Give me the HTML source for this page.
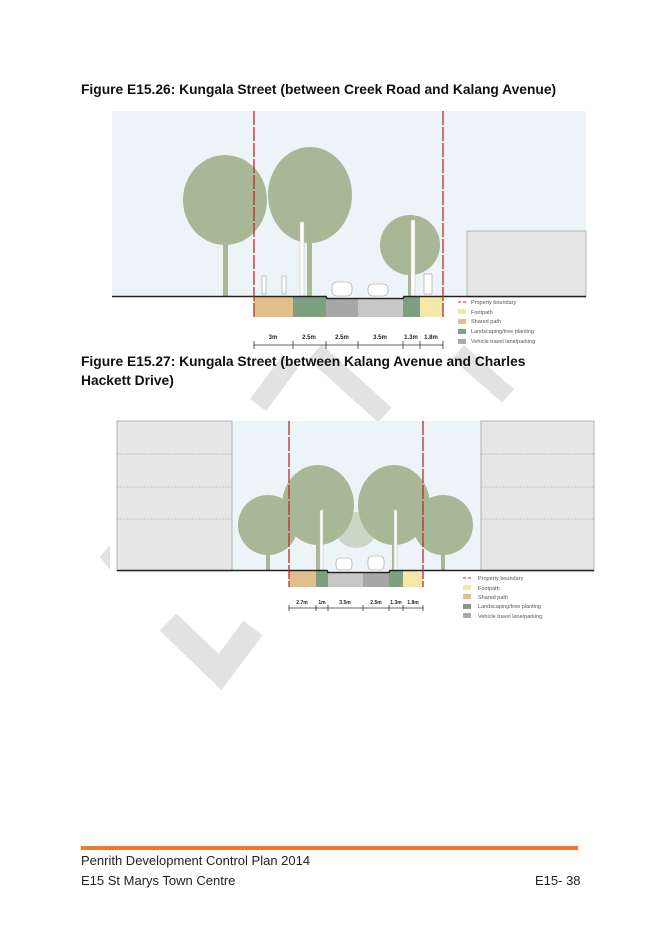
<!DOCTYPE html>
<html><head><meta charset="utf-8"><style>
body{margin:0;width:656px;height:928px;background:#fff;position:relative;overflow:hidden;font-family:"Liberation Sans",sans-serif}
.t{position:absolute;font-weight:bold;font-size:13.8px;color:#111;line-height:19px}
.f{position:absolute;font-size:13px;color:#222}
</style></head><body>
<svg width="656" height="928" style="position:absolute;left:0;top:0">
<g stroke="#e2e2e2" fill="none" stroke-linejoin="miter">
<polyline points="168,622 220,672 253,628" stroke-width="24"/>
<line x1="258" y1="405" x2="290" y2="362" stroke-width="20"/>
<line x1="315" y1="352" x2="385" y2="415" stroke-width="20"/>
<line x1="458" y1="352" x2="508" y2="396" stroke-width="18"/>
<polygon points="110,545 100,557 110,570" fill="#e2e2e2" stroke="none"/>
</g>
</svg>
<div class="t" style="left:81px;top:80px">Figure E15.26: Kungala Street (between Creek Road and Kalang Avenue)</div>
<div class="t" style="left:81px;top:352px;width:480px">Figure E15.27: Kungala Street (between Kalang Avenue and Charles Hackett Drive)</div>
<svg width="656" height="928" style="position:absolute;left:0;top:0" font-family="Liberation Sans,sans-serif">
<!-- Figure 1 -->
<rect x="112" y="111" width="474" height="186" fill="#edf4f7"/>
<rect x="467" y="231" width="119" height="66" fill="#e6e6e6" stroke="#999" stroke-width="0.7"/>
<g fill="#a8b896">
<ellipse cx="225" cy="200" rx="42" ry="45"/><rect x="223" y="230" width="5" height="66"/>
<ellipse cx="310" cy="195" rx="42" ry="48"/><rect x="307" y="230" width="5" height="66"/>
<ellipse cx="410" cy="245" rx="30" ry="30"/><rect x="408" y="260" width="4" height="36"/>
</g>
<rect x="300" y="222" width="4" height="74" fill="#fff" stroke="#bbb" stroke-width="0.5"/>
<rect x="411" y="220" width="4" height="76" fill="#fff" stroke="#bbb" stroke-width="0.5"/>
<rect x="332" y="282" width="20" height="14" rx="5" fill="#fff" stroke="#999" stroke-width="0.6"/>
<rect x="368" y="284" width="20" height="12" rx="5" fill="#fff" stroke="#999" stroke-width="0.6"/>
<rect x="262" y="276" width="4" height="18" fill="#fff" stroke="#888" stroke-width="0.5"/>
<rect x="282" y="276" width="4" height="18" fill="#fff" stroke="#888" stroke-width="0.5"/>
<rect x="424" y="274" width="8" height="20" fill="#fff" stroke="#888" stroke-width="0.5"/>
<rect x="254" y="297" width="39" height="20" fill="#e0bf8b"/>
<rect x="293" y="297" width="33" height="20" fill="#7f9f81"/>
<rect x="326" y="298" width="32" height="19" fill="#a7a7a7"/>
<rect x="358" y="298" width="45" height="19" fill="#c7c7c7"/>
<rect x="403" y="297" width="17" height="20" fill="#7f9f81"/>
<rect x="420" y="297" width="23" height="20" fill="#f4e8a8"/>
<polyline points="112,296.5 326,296.5 327,298.5 403,298.5 404,296.5 586,296.5" fill="none" stroke="#222" stroke-width="1.6"/>
<g stroke="#c0282a" stroke-width="1.3" stroke-dasharray="14,2"><line x1="254" y1="111" x2="254" y2="317"/><line x1="443" y1="111" x2="443" y2="317"/></g>
<g stroke="#333" stroke-width="0.8"><line x1="254" y1="345" x2="443" y2="345"/>
<line x1="254" y1="341" x2="254" y2="349"/><line x1="293" y1="341" x2="293" y2="349"/><line x1="326" y1="341" x2="326" y2="349"/><line x1="358" y1="341" x2="358" y2="349"/><line x1="403" y1="341" x2="403" y2="349"/><line x1="420" y1="341" x2="420" y2="349"/><line x1="443" y1="341" x2="443" y2="349"/></g>
<g font-size="6" font-weight="bold" fill="#222" text-anchor="middle"><text x="273" y="339">3m</text><text x="309" y="339">2.5m</text><text x="342" y="339">2.5m</text><text x="380" y="339">3.5m</text><text x="411" y="339">1.3m</text><text x="431" y="339">1.8m</text></g>
<g font-size="5.5" fill="#555">
<line x1="458" y1="302" x2="466" y2="302" stroke="#c0282a" stroke-width="1" stroke-dasharray="3,2"/><text x="471" y="304">Property boundary</text>
<rect x="458" y="309" width="8" height="5" fill="#f4e8a8"/><text x="471" y="314">Footpath</text>
<rect x="458" y="319" width="8" height="5" fill="#e0bf8b"/><text x="471" y="323">Shared path</text>
<rect x="458" y="329" width="8" height="5" fill="#7f9f81"/><text x="471" y="333">Landscaping/tree planting</text>
<rect x="458" y="339" width="8" height="5" fill="#aaa"/><text x="471" y="343">Vehicle travel lane/parking</text></g>
<!-- Figure 2 -->
<rect x="117" y="421" width="477" height="150" fill="#edf4f7"/>
<rect x="117" y="421" width="115" height="150" fill="#e6e6e6" stroke="#999" stroke-width="0.7"/>
<rect x="481" y="421" width="113" height="150" fill="#e6e6e6" stroke="#999" stroke-width="0.7"/>
<g stroke="#999" stroke-width="0.5" stroke-dasharray="2,1"><line x1="117" y1="454" x2="232" y2="454"/><line x1="117" y1="487" x2="232" y2="487"/><line x1="117" y1="519" x2="232" y2="519"/><line x1="481" y1="454" x2="594" y2="454"/><line x1="481" y1="487" x2="594" y2="487"/><line x1="481" y1="519" x2="594" y2="519"/></g>
<g fill="#a8b896">
<ellipse cx="268" cy="525" rx="30" ry="30"/><rect x="266" y="540" width="4" height="30"/>
<ellipse cx="318" cy="505" rx="36" ry="40"/><rect x="316" y="530" width="4" height="40"/>
<ellipse cx="394" cy="505" rx="36" ry="40"/><rect x="392" y="530" width="4" height="40"/>
<ellipse cx="443" cy="525" rx="30" ry="30"/><rect x="441" y="540" width="4" height="30"/>
<ellipse cx="356" cy="530" rx="20" ry="18" opacity="0.5"/></g>
<rect x="320" y="510" width="3" height="60" fill="#fff" stroke="#bbb" stroke-width="0.5"/>
<rect x="394" y="510" width="3" height="60" fill="#fff" stroke="#bbb" stroke-width="0.5"/>
<rect x="336" y="558" width="16" height="12" rx="4" fill="#fff" stroke="#999" stroke-width="0.6"/>
<rect x="368" y="556" width="16" height="14" rx="4" fill="#fff" stroke="#999" stroke-width="0.6"/>
<rect x="289" y="571" width="27" height="16" fill="#e0bf8b"/>
<rect x="316" y="571" width="12" height="16" fill="#7f9f81"/>
<rect x="328" y="572" width="35" height="15" fill="#c7c7c7"/>
<rect x="363" y="572" width="26" height="15" fill="#a7a7a7"/>
<rect x="389" y="571" width="14" height="16" fill="#7f9f81"/>
<rect x="403" y="571" width="20" height="16" fill="#f4e8a8"/>
<polyline points="117,570.5 327,570.5 328,572.5 389,572.5 390,570.5 594,570.5" fill="none" stroke="#222" stroke-width="1.6"/>
<g stroke="#c0282a" stroke-width="1.3" stroke-dasharray="14,2"><line x1="289" y1="421" x2="289" y2="587"/><line x1="423" y1="421" x2="423" y2="587"/></g>
<g stroke="#333" stroke-width="0.8"><line x1="289" y1="608" x2="423" y2="608"/>
<line x1="289" y1="605" x2="289" y2="611"/><line x1="316" y1="605" x2="316" y2="611"/><line x1="328" y1="605" x2="328" y2="611"/><line x1="363" y1="605" x2="363" y2="611"/><line x1="389" y1="605" x2="389" y2="611"/><line x1="403" y1="605" x2="403" y2="611"/><line x1="423" y1="605" x2="423" y2="611"/></g>
<g font-size="5" font-weight="bold" fill="#222" text-anchor="middle"><text x="302" y="604">2.7m</text><text x="322" y="604">1m</text><text x="345" y="604">3.5m</text><text x="376" y="604">2.5m</text><text x="396" y="604">1.3m</text><text x="413" y="604">1.8m</text></g>
<g font-size="5.5" fill="#555">
<line x1="463" y1="578" x2="471" y2="578" stroke="#c0282a" stroke-width="1" stroke-dasharray="3,2"/><text x="478" y="580">Property boundary</text>
<rect x="463" y="585" width="8" height="5" fill="#f4e8a8"/><text x="478" y="590">Footpath</text>
<rect x="463" y="594" width="8" height="5" fill="#e0bf8b"/><text x="478" y="599">Shared path</text>
<rect x="463" y="604" width="8" height="5" fill="#7f9f81"/><text x="478" y="608">Landscaping/tree planting</text>
<rect x="463" y="613" width="8" height="5" fill="#aaa"/><text x="478" y="618">Vehicle travel lane/parking</text></g>
<rect x="81" y="846" width="497" height="4" fill="#ec7a30"/>
</svg>
<div class="f" style="left:81px;top:853px">Penrith Development Control Plan 2014</div>
<div class="f" style="left:81px;top:873px">E15 St Marys Town Centre</div>
<div class="f" style="left:535px;top:873px">E15- 38</div>
</body></html>
